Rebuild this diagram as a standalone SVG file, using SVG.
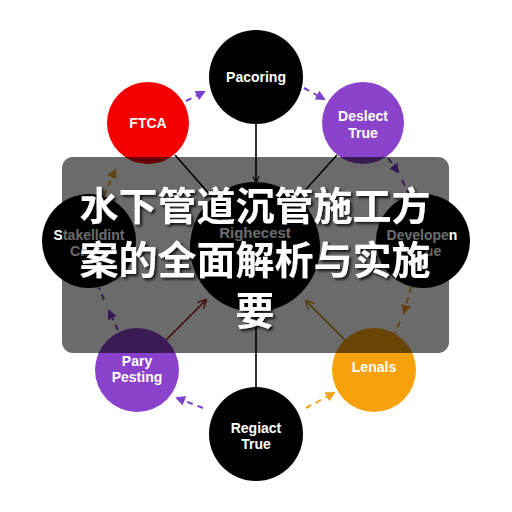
<svg xmlns="http://www.w3.org/2000/svg" width="512" height="512" viewBox="0 0 512 512">
<defs>
<style>
.lbl{font-family:"Liberation Sans",Arial,sans-serif;font-weight:bold;font-size:14px;fill:#fff;text-anchor:middle}
.solid{fill:none;stroke-width:1.6}
.dash{fill:none;stroke-width:2;stroke-dasharray:6 5}
.title{font-family:"Noto Sans CJK SC","Noto Sans",sans-serif;font-weight:bold;font-size:39px;fill:#fff;text-anchor:middle}
</style>
<marker id="aBlk" viewBox="0 0 10 10" refX="9" refY="5" markerWidth="7" markerHeight="7" orient="auto" markerUnits="userSpaceOnUse"><path d="M0,0 L10,5 L0,10" fill="none" stroke="#000" stroke-width="1.6"/></marker>
<marker id="aRed" viewBox="0 0 10 10" refX="9" refY="5" markerWidth="9" markerHeight="9" orient="auto" markerUnits="userSpaceOnUse"><path d="M0,0 L10,5 L0,10" fill="none" stroke="#a01c1c" stroke-width="1.6"/></marker>
<marker id="aGold" viewBox="0 0 10 10" refX="9" refY="5" markerWidth="9" markerHeight="9" orient="auto" markerUnits="userSpaceOnUse"><path d="M0,0 L10,5 L0,10" fill="none" stroke="#c98d14" stroke-width="1.6"/></marker>
<marker id="aPur" viewBox="0 0 10 10" refX="8" refY="5" markerWidth="10" markerHeight="10" orient="auto" markerUnits="userSpaceOnUse"><path d="M0,0 L10,5 L0,10 Z" fill="#7c3fd0"/></marker>
<marker id="aOr" viewBox="0 0 10 10" refX="8" refY="5" markerWidth="10" markerHeight="10" orient="auto" markerUnits="userSpaceOnUse"><path d="M0,0 L10,5 L0,10 Z" fill="#eea322"/></marker>
<filter id="sh" x="-10%" y="-10%" width="120%" height="130%"><feDropShadow dx="2" dy="2" stdDeviation="1.5" flood-color="#000" flood-opacity="0.85"/></filter>
</defs>
<rect width="512" height="512" fill="#fff"/>
<g id="connectors">
<path class="solid" stroke="#000" d="M256,124 L256,182" marker-end="url(#aBlk)"/>
<path class="solid" stroke="#000" d="M175,155 L212,197" marker-end="url(#aBlk)"/>
<path class="solid" stroke="#000" d="M337,155 L299,197" marker-end="url(#aBlk)"/>
<path class="solid" stroke="#000" d="M256,387 L256,313" marker-end="url(#aBlk)"/>
<path class="solid" stroke="#a01c1c" d="M166,340 L206,300" marker-end="url(#aRed)"/>
<path class="solid" stroke="#c98d14" d="M345,340 L306,301" marker-end="url(#aGold)"/>
<path class="dash" stroke="#7c3fd0" d="M186,101 L204,92" marker-end="url(#aPur)"/>
<path class="dash" stroke="#7c3fd0" d="M304,88 L324,99" marker-end="url(#aPur)"/>
<path class="dash" stroke="#7c3fd0" d="M388,158 L398,172" marker-end="url(#aPur)"/>
<path class="dash" stroke="#7c3fd0" d="M402,180 L409,194"/>
<path class="dash" stroke="#eea322" d="M411,287 L404,313" marker-end="url(#aOr)"/>
<path class="dash" stroke="#eea322" d="M400,322 L394,334"/>
<path class="dash" stroke="#7c3fd0" d="M118,330 L109,311" marker-end="url(#aPur)"/>
<path class="dash" stroke="#7c3fd0" d="M104,300 L99,288"/>
<path class="dash" stroke="#eea322" d="M104,196 L115,170" marker-end="url(#aOr)"/>
<path class="dash" stroke="#eea322" d="M306,408 L334,393" marker-end="url(#aOr)"/>
<path class="dash" stroke="#7c3fd0" d="M203,408 L177,398" marker-end="url(#aPur)"/>
</g>
<g id="n-pacoring"><circle cx="256" cy="77" r="47" fill="#000"/><text class="lbl" x="256" y="82">Pacoring</text></g>
<g id="n-ftca"><circle cx="148" cy="123" r="41" fill="#f40000"/><text class="lbl" x="148" y="128">FTCA</text></g>
<g id="n-deslect"><circle cx="363" cy="123" r="41" fill="#8b43cb"/><text class="lbl" x="363" y="121">Deslect</text><text class="lbl" x="363" y="138">True</text></g>
<g id="n-stakel"><circle cx="89" cy="241" r="47" fill="#000"/><text class="lbl" x="89" y="240">Stakelldint</text><text class="lbl" x="79" y="256">Ca</text></g>
<g id="n-developen"><circle cx="423" cy="241" r="47" fill="#000"/><text class="lbl" x="422" y="240">Developen</text><text class="lbl" x="433" y="256">ue</text></g>
<g id="n-center"><circle cx="255" cy="247" r="65" fill="#000"/><text class="lbl" x="255" y="238" style="font-size:15px">Righecest</text></g>
<g id="n-pary"><circle cx="137" cy="370" r="42" fill="#8a42cc"/><text class="lbl" x="137" y="366">Pary</text><text class="lbl" x="137" y="382">Pesting</text></g>
<g id="n-lenals"><circle cx="374" cy="370" r="42" fill="#f7a20c"/><text class="lbl" x="374" y="372">Lenals</text></g>
<g id="n-regiact"><circle cx="256" cy="434" r="47" fill="#000"/><text class="lbl" x="256" y="433">Regiact</text><text class="lbl" x="256" y="449">True</text></g>
<g id="overlay">
<rect x="62" y="157" width="387" height="196" rx="11" fill="#000" fill-opacity="0.58"/>
<g filter="url(#sh)">
<text class="title" x="255" y="220">水下管道沉管施工方</text>
<text class="title" x="255" y="274">案的全面解析与实施</text>
<text class="title" x="255" y="325">要</text>
</g>
</g>
</svg>
